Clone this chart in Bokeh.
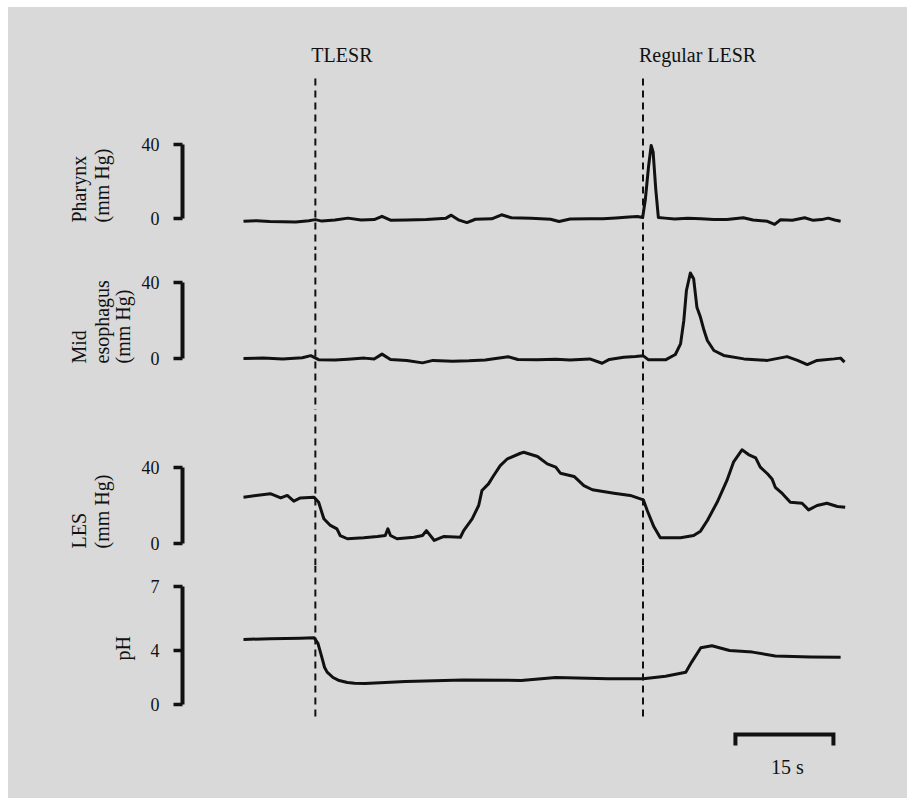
import numpy as np
from bokeh.plotting import figure
from bokeh.models import Range1d, Label, FixedTicker, Spacer
from bokeh.layouts import column, row
from bokeh.core.properties import value
from bokeh.embed import file_html
from bokeh.resources import INLINE

# ---------------- data (time in s, pressures in mm Hg, pH units) ----------------
EVENT_T = [11.0, 61.15]
EVENT_LABELS = ["TLESR", "Regular LESR"]

PHARYNX_T = [0, 2, 4, 6, 8, 10, 11, 12, 14, 16, 18, 20, 21.2, 22.5, 25, 28, 31, 31.8, 33, 34.2,
             35.5, 38, 39.5, 41, 44, 47, 48.3, 50, 53, 55, 57, 59, 60.3, 61.1, 61.5, 62.0, 62.4,
             62.7, 63.1, 63.5, 64.5, 66, 68, 70, 72, 74, 76.5, 78, 80.2, 81.3, 82.2, 84, 85.9,
             87.2, 88.5, 89.5, 90.5, 91.4]
PHARYNX_V = [-1.5, -1.2, -1.6, -1.8, -1.9, -1.2, -0.6, -1.4, -0.8, 0.2, -0.8, -0.6, 1.2, -0.9,
             -0.8, -0.6, 0.2, 1.8, -0.9, -2.2, -0.4, -0.2, 2.0, 0.4, 0.1, -0.4, -1.6, -0.3, -0.1,
             -0.2, 0.3, 0.8, 1.1, 0.5, 10, 28, 39.5, 36, 16, 0.6, 0.2, -0.3, 0.1, -0.2, -0.6,
             -0.5, 0.4, -0.8, -1.5, -3.2, -0.7, -0.9, 0.4, -1.0, -0.6, 0.2, -0.8, -1.5]

MID_T = [0, 3, 6, 9, 10.3, 11.5, 14, 16, 18.5, 20, 21.2, 22.5, 25, 27.4, 29, 32, 34.5, 37, 40.5,
         42, 45, 47.8, 50, 53, 54.9, 56, 58.2, 60, 61.2, 62, 64.6, 66.1, 66.9, 67.4, 67.8, 68.4,
         68.9, 69.4, 69.95, 70.5, 71.0, 72.0, 73.5, 76.6, 80.2, 83.2, 84.8, 86.3, 87.8, 90.4,
         91.4, 92.0]
MID_V = [0, 0.3, -0.2, 0.4, 1.5, -0.6, -0.8, -0.4, 0.2, -0.3, 2.3, -0.5, -1.0, -2.3, -1.0, -1.4,
         -1.2, -0.8, 0.9, -0.5, -0.6, -0.4, -0.8, -0.2, -2.5, -0.5, 0.7, 1.0, 1.4, -0.7, -0.7,
         2.1, 7.7, 20, 35.8, 45, 42, 27, 21.7, 14.7, 9.5, 4.2, 1.6, -0.2, -1.0, 1.0, -1.0, -3.2,
         -1.0, -0.2, 0.2, -1.9]

LES_T = [0, 4.1, 5.7, 6.7, 7.7, 8.7, 10.8, 11.5, 12.3, 13.3, 14.3, 14.8, 15.9, 18.4, 20.5, 21.7,
         22.1, 22.5, 23.5, 26.1, 27.4, 28.0, 29.2, 30.7, 33.2, 33.7, 35.0, 36.0, 36.5, 37.5, 38.3,
         39.3, 40.4, 42.4, 42.9, 45.0, 46.5, 47.8, 48.5, 50.6, 52.1, 53.4, 56.7, 59.2, 61.2, 61.8,
         62.8, 63.8, 66.9, 68.9, 69.95, 71.0, 72.5, 74.0, 75.0, 76.3, 77.3, 78.4, 79.1, 80.2,
         80.9, 81.4, 82.5, 83.7, 85.5, 86.5, 87.8, 89.3, 90.9, 92.1]
LES_V = [24.4, 26.2, 24.0, 25.3, 22.3, 24, 24.4, 21.7, 13, 9.5, 7.7, 4.2, 2.5, 3, 3.7, 4.2, 7.7,
         4.2, 2.5, 3.3, 4.2, 6.8, 1.6, 3.7, 3.3, 6.8, 13, 20, 27.9, 31.4, 35.8, 41, 44.6, 47.5,
         48, 45.8, 41.9, 40.2, 37, 35.3, 30.5, 28.3, 26.5, 25.3, 23, 17.4, 8.9, 3.0, 3.0, 4.2,
         6.5, 12.1, 21.7, 33.2, 42.8, 49.3, 46.8, 45.1, 40.2, 36.7, 34, 29.6, 26.2, 21.7, 21.2,
         17.7, 20, 21.2, 19.5, 19.1]

PH_T = [0, 4.1, 8.7, 10.8, 11.4, 12.1, 12.4, 12.8, 13.7, 14.5, 15.9, 17, 18.6, 24.8, 33.6, 42.5,
        47.8, 55.8, 61.2, 64.6, 67.7, 68.6, 70.0, 71.7, 74.4, 77.9, 81.4, 86.8, 91.4]
PH_V = [4.52, 4.55, 4.58, 4.6, 4.33, 3.3, 2.76, 2.4, 2.0, 1.8, 1.63, 1.58, 1.56, 1.7, 1.82, 1.78,
        2.0, 1.9, 1.9, 2.09, 2.39, 3.14, 4.13, 4.22, 4.0, 3.88, 3.6, 3.52, 3.5]

PRESSURE_TICKS = [0, 40]
PH_TICKS = [0, 4, 7]
PH_TICK_POS = [0, 54, 118]      # the printed pH scale is not linear (pixel heights above pH 0)
SCALE_START = 75.3
SCALE_LEN = 15
SCALE_LABEL = "15 s"

SIDE_TEXT = ["Pharynx", "(mm Hg)", "Mid", "esophagus", "(mm Hg)", "LES", "(mm Hg)", "pH"]

# ---------------- style / layout (page pixel coordinates) ----------------
BG = "#d9d9d9"
INK = "#111111"
FONT = "Liberation Serif"
X0, Y0 = 8, 7                    # page offset of the grey area
TOTAL_W, TOTAL_H = 899, 791
STRIP_R = 136                    # page x where the text strip ends
LEFT_W = STRIP_R - X0
PANEL_W = TOTAL_W - LEFT_W
FRAME_L, FRAME_R = 182, 880      # page x of the plotting frame
T0_X = 243                       # page x of t = 0
PX_PER_S = 6.533
x_range = Range1d((FRAME_L - T0_X) / PX_PER_S, (FRAME_R - T0_X) / PX_PER_S)


def panel(height, ylo, yhi, ticks, bounds):
    p = figure(width=PANEL_W, height=height, x_range=x_range, y_range=Range1d(ylo, yhi),
               output_backend="svg", toolbar_location=None, x_axis_location=None,
               y_axis_location="left", min_border_left=FRAME_L - STRIP_R,
               min_border_right=PANEL_W - (FRAME_R - STRIP_R), min_border_top=0,
               min_border_bottom=0)
    p.background_fill_color = None
    p.border_fill_color = None
    p.outline_line_color = None
    p.grid.visible = False
    ax = p.yaxis[0]
    ax.ticker = FixedTicker(ticks=ticks)
    ax.bounds = bounds
    ax.axis_line_width = 4
    ax.axis_line_color = INK
    ax.major_tick_line_width = 3.5
    ax.major_tick_line_color = INK
    ax.major_tick_in = 0
    ax.major_tick_out = 9
    ax.minor_tick_line_color = None
    ax.major_label_standoff = 14
    ax.major_label_text_font = FONT
    ax.major_label_text_font_size = "18px"
    ax.major_label_text_color = INK
    return p


def dashed(p, t, y0, y1):
    p.segment(x0=t, y0=y0, x1=t, y1=y1, line_color=INK, line_width=2, line_dash="7 5")


# Panel A: pharynx, page y 7..250 ; page y = 218 - 1.85 v
pA = panel(243, (218 - 250) / 1.85, (218 - 7) / 1.85, PRESSURE_TICKS, (0, 40))
for t in EVENT_T:
    dashed(pA, t, (218 - 78) / 1.85, -60)
for t, lab in zip(EVENT_T, EVENT_LABELS):
    pA.add_layout(Label(x=t, y=(218 - 54.5) / 1.85, text=lab, x_offset=-4, text_align="left",
                        text_baseline="alphabetic", text_font=FONT, text_font_size="20px",
                        text_color=INK))
pA.line(PHARYNX_T, PHARYNX_V, line_width=3, color=INK, line_join="round")

# Panel B: mid esophagus, page y 250..410 ; page y = 358 - 1.9 v
pB = panel(160, (358 - 410) / 1.9, (358 - 250) / 1.9, PRESSURE_TICKS, (0, 40))
for t in EVENT_T:
    dashed(pB, t, -100, 100)
pB.line(MID_T, MID_V, line_width=3, color=INK, line_join="round")

# Panel C: LES, page y 410..565 ; page y = 543 - 1.9 v
pC = panel(155, (543 - 565) / 1.9, (543 - 410) / 1.9, PRESSURE_TICKS, (0, 40))
for t in EVENT_T:
    dashed(pC, t, -100, 100)
pC.line(LES_T, LES_V, line_width=3, color=INK, line_join="round")

# Panel D: pH + time scale, page y 565..798 ; u = 704 - page y
pD = panel(233, 704 - 798, 704 - 565, PH_TICK_POS, (0, PH_TICK_POS[-1]))
pD.yaxis[0].major_label_overrides = {pos: str(v) for pos, v in zip(PH_TICK_POS, PH_TICKS)}
for t in EVENT_T:
    dashed(pD, t, 704 - 716, 300)
pD.line(PH_T, list(np.interp(PH_V, PH_TICKS, PH_TICK_POS)), line_width=3, color=INK,
        line_join="round")
pD.line([SCALE_START, SCALE_START, SCALE_START + SCALE_LEN, SCALE_START + SCALE_LEN],
        [704 - 745, 704 - 734, 704 - 734, 704 - 745], line_width=4, color=INK,
        line_join="miter")
pD.add_layout(Label(x=SCALE_START + SCALE_LEN / 2, y=704 - 766, text=SCALE_LABEL, x_offset=3,
                    text_align="center", text_baseline="alphabetic", text_font=FONT,
                    text_font_size="20px", text_color=INK))

# Left strip with the rotated channel names (page coordinates, y negated)
side_x = [78, 101, 78, 101, 122, 78, 101, 122]
side_y = [-222, -222, -363, -363, -363, -548, -548, -660]
pL = figure(width=LEFT_W, height=TOTAL_H, x_range=Range1d(X0, STRIP_R),
            y_range=Range1d(-(Y0 + TOTAL_H), -Y0), output_backend="svg",
            toolbar_location=None, x_axis_location=None, y_axis_location=None, min_border=0)
pL.background_fill_color = None
pL.border_fill_color = None
pL.outline_line_color = None
pL.grid.visible = False
pL.text(x=side_x, y=side_y, text=SIDE_TEXT, angle=np.pi / 2, text_align="left",
        text_baseline="middle", text_font=value(FONT), text_font_size="20px", text_color=INK)

content = row(pL, column(pA, pB, pC, pD, spacing=0), spacing=0,
              styles={"background-color": BG})
layout = column(Spacer(width=TOTAL_W, height=Y0),
                row(Spacer(width=X0, height=TOTAL_H), content, spacing=0), spacing=0)
open("out.html", "w").write(file_html(layout, INLINE))
